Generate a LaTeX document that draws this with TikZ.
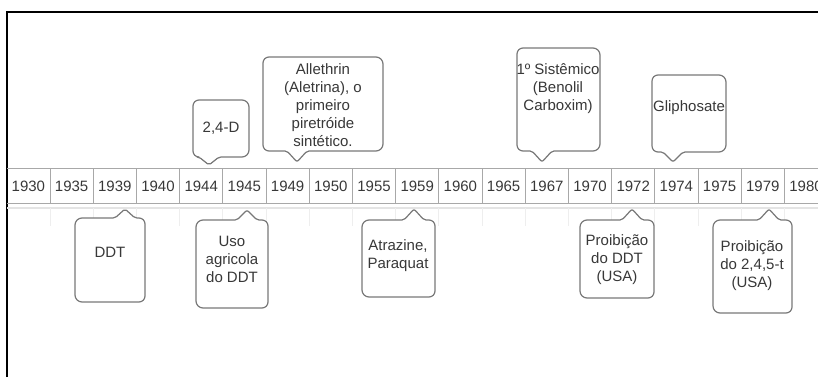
\documentclass[tikz,border=0pt]{standalone}
\usepackage{fontspec}
\setmainfont{Liberation Sans}
\definecolor{txtc}{HTML}{383838}
\definecolor{cellline}{HTML}{A8A8A8}
\definecolor{shadowline}{HTML}{E4E4E4}
\definecolor{tickline}{HTML}{EEEEEE}
\definecolor{callline}{HTML}{787878}
% box above the band, pointer down: x1 y1 x2 y2 tipx tipy
\newcommand\callabove[6]{%
  \draw[callbox] ({(#1+#3)/2},#2) [rounded corners=7pt] -- (#3,#2) -- (#3,#4)
    [rounded corners=2pt] -- ({#5+10},#4) -- (#5,#6) -- ({#5-10},#4)
    [rounded corners=6pt] -- (#1,#4) -- (#1,#2) -- cycle;}
% box below the band, pointer up: x1 y1 x2 y2 tipx tipy
\newcommand\callbelow[6]{%
  \draw[callbox] ({(#1+#3)/2},#4) [rounded corners=7pt] -- (#1,#4) -- (#1,#2)
    [rounded corners=2pt] -- ({#5-10},#2) -- (#5,#6) -- ({#5+10},#2)
    [rounded corners=6pt] -- (#3,#2) -- (#3,#4) -- cycle;}
\begin{document}
\begin{tikzpicture}[x=1pt,y=-1pt,
  yearlbl/.style={text=txtc, font=\fontsize{15}{18}\selectfont, inner sep=0pt},
  calltext/.style={text=txtc, font=\fontsize{15}{18}\selectfont, align=center, inner sep=0pt},
  callbox/.style={draw=callline, line width=1.2pt, fill=white, line join=round},
  cellrule/.style={draw=cellline, line width=1pt},
  frame/.style={draw=black, line width=2.2pt}]
\useasboundingbox (0,0) rectangle (818,377);
% frame
\draw[frame] (7,377) -- (7,12) -- (818,12);
% faint rules under the band
\draw[shadowline, line width=1.5pt] (7,208) -- (818,208);
\foreach \i in {1,...,18}
  \draw[tickline, line width=1pt] ({6.8+43.2*\i},208) -- ({6.8+43.2*\i},226);
% band
\draw[cellrule] (7,168) -- (818,168);
\draw[cellrule] (7,203) -- (818,203);
\foreach \i in {1,...,18}
  \draw[cellrule] ({6.8+43.2*\i},168) -- ({6.8+43.2*\i},203);
\foreach \yr [count=\i from 0] in {1930,1935,1939,1940,1944,1945,1949,1950,1955,1959,1960,1965,1967,1970,1972,1974,1975,1979,1980}
  \node[yearlbl] (y\yr) at ({6.8+43.2*(\i+0.5)},186) {\yr};
% callouts above
\callabove{193}{100}{249}{157}{209}{165}
\node[calltext] (c24d) at (221,128) {2,4-D};
\callabove{263}{57}{383}{151}{297}{162}
\node[calltext] (callethrin) at (323,105.5) {Allethrin\\(Aletrina), o\\primeiro\\piretróide\\sintético.};
\callabove{517}{48}{600}{151}{542}{162}
\node[calltext] (csist) at (558,89) {1º Sistêmico\\(Benolil\\Carboxim)};
\callabove{652}{75}{726}{152}{673}{162}
\node[calltext] (cgli) at (689,108) {Gliphosate};
% callouts below
\callbelow{75}{218}{145}{302}{125}{209}
\node[calltext] (cddt) at (110,252) {DDT};
\callbelow{196}{220}{268}{308}{247}{210}
\node[calltext] (cuso) at (232,259) {Uso\\agricola\\do DDT};
\callbelow{362}{220}{435}{297}{414}{209}
\node[calltext] (catraz) at (398,256) {Atrazine,\\Paraquat};
\callbelow{580}{220}{654}{298}{632}{209}
\node[calltext] (cproddt) at (617,260) {Proibição\\do DDT\\(USA)};
\callbelow{713}{220}{792}{313}{769}{209}
\node[calltext] (cpro245) at (752,266) {Proibição\\do 2,4,5-t\\(USA)};
\end{tikzpicture}
\end{document}
